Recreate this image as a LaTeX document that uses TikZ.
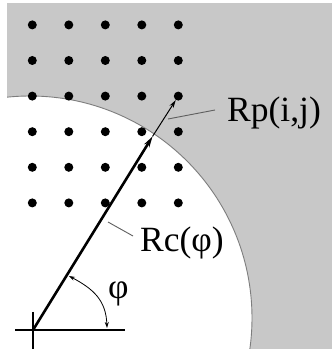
\documentclass[tikz,border=0pt]{standalone}
\usepackage{fontspec}
\setmainfont{Liberation Serif}
\usetikzlibrary{arrows.meta}
\definecolor{bgray}{RGB}{200,200,200}
\definecolor{cgray}{RGB}{125,125,125}
\definecolor{lgray}{RGB}{95,95,95}
\begin{document}
\begin{tikzpicture}[x=1pt,y=1pt,
  dot/.style={circle,fill=black,inner sep=0pt,minimum size=9pt},
  lbl/.style={font=\fontsize{35.5}{40}\selectfont,inner sep=0pt,anchor=base west},
  leader/.style={draw=lgray,line width=0.9pt},
  axisline/.style={line width=1.2pt},
  radius/.style={line width=2.6pt,-{Stealth[length=11pt,width=6pt]}},
  thinarrow/.style={line width=1pt,-{Stealth[length=8pt,width=4.5pt]}},
  anglearc/.style={line width=0.8pt,{Stealth[length=6pt,width=4pt]}-{Stealth[length=6pt,width=4pt]}}
  ]
\useasboundingbox (0,0) rectangle (332,349);
% background and disc
\begin{scope}
  \clip (7,0) rectangle (332,346);
  \fill[bgray] (7,0) rectangle (332,346);
  \filldraw[fill=white,draw=cgray,line width=0.9pt] (30,31) circle (222);
\end{scope}
% grid of points
\foreach \i in {1,...,5}{
  \foreach \j in {1,...,6}{
    \node[dot] (d\i\j) at ({32.3+36.5*(\i-1)},{324.1-35.6*(\j-1)}) {};
  }
}
% axes
\coordinate (O) at (33,19);
\coordinate (H1) at (15,19);
\coordinate (H2) at (125,19);
\coordinate (V1) at (33,37);
\coordinate (V2) at (33,0);
\draw[axisline] (H1) -- (H2);
\draw[axisline] (V1) -- (V2);
% radius arrow
\coordinate (A) at (152.5,212.5);
\draw[thinarrow] (A) -- (d53);
\draw[radius] (O) -- (A);
% angle arc
\coordinate (a1) at (69,73);
\coordinate (a2) at (107,21);
\draw[anglearc] (a1) to[out=-28,in=92,looseness=1.1] (a2);
% labels
\node[lbl] (rp) at (227,227) {Rp(i,j)};
\node[lbl] (rc) at (140,97) {Rc(φ)};
\node[lbl] (phi) at (108,50) {φ};
% leaders
\coordinate (l1a) at (168,230);
\coordinate (l1b) at (215,239);
\coordinate (l2a) at (108,127);
\coordinate (l2b) at (133,113);
\draw[leader] (l1a) -- (l1b);
\draw[leader] (l2a) -- (l2b);
\end{tikzpicture}
\end{document}
